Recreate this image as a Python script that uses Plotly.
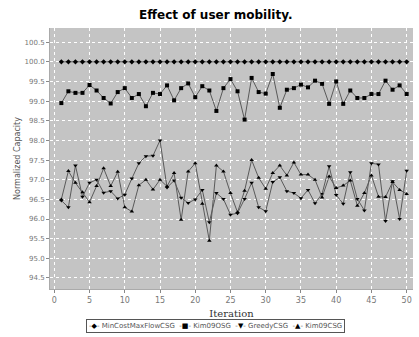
import plotly.graph_objects as go

iterations = list(range(1, 51))

mincost = [100.0] * 50

kim09osg = [98.95, 99.25, 99.21, 99.21, 99.41, 99.27, 99.08, 98.94, 99.23, 99.33,
            99.08, 99.18, 98.87, 99.21, 99.18, 99.40, 99.02, 99.33, 99.45, 99.10,
            99.38, 99.27, 98.75, 99.33, 99.56, 99.25, 98.53, 99.59, 99.23, 99.19,
            99.69, 98.83, 99.29, 99.33, 99.42, 99.35, 99.52, 99.44, 98.93, 99.50,
            98.93, 99.27, 99.08, 99.08, 99.18, 99.18, 99.52, 99.29, 99.40, 99.18]

greedy = [96.47, 96.30, 97.36, 96.57, 96.92, 97.00, 96.67, 96.71, 96.52, 96.62,
          97.03, 97.42, 97.60, 97.61, 98.00, 96.80, 96.98, 96.54, 96.41, 96.50,
          96.74, 95.92, 96.66, 96.51, 96.11, 96.15, 96.51, 96.92, 96.30, 96.20,
          96.94, 97.06, 96.71, 96.66, 96.53, 96.74, 96.40, 96.64, 97.34, 96.61,
          96.39, 97.19, 96.51, 96.22, 97.42, 97.39, 95.95, 96.96, 96.00, 97.23]

kim09csg = [96.50, 97.22, 96.92, 96.68, 96.43, 96.84, 97.29, 96.84, 97.20, 96.30,
            96.19, 96.86, 97.00, 96.75, 97.00, 96.83, 97.17, 95.98, 97.21, 97.42,
            96.39, 95.45, 97.36, 97.21, 96.66, 96.17, 96.72, 97.50, 97.05, 96.77,
            97.17, 97.36, 97.11, 97.44, 97.13, 97.13, 97.00, 96.55, 97.08, 96.79,
            96.85, 96.98, 96.34, 96.66, 97.11, 96.57, 96.56, 96.94, 96.74, 96.64]

series_names = ["MinCostMaxFlowCSG", "Kim09OSG", "GreedyCSG", "Kim09CSG"]
series_values = [mincost, kim09osg, greedy, kim09csg]
series_symbols = ["diamond", "square", "triangle-down", "triangle-up"]
legend_glyphs = ["◆", "■", "▼", "▲"]

x_ticks = list(range(0, 51, 5))
y_ticks = [94.5 + 0.5 * k for k in range(13)]

fig = go.Figure()
for name, vals, sym in zip(series_names, series_values, series_symbols):
    fig.add_trace(go.Scatter(
        x=iterations, y=vals, name=name, mode="lines+markers",
        line=dict(color="#5a5a5a", width=1),
        marker=dict(symbol=sym, size=4, color="black"),
        showlegend=False,
    ))

legend_text = "  ".join(
    f'<span style="color:#666">-</span><span style="color:black">{g}</span>'
    f'<span style="color:#666">-</span> {n}'
    for g, n in zip(legend_glyphs, series_names)
)

fig.update_layout(
    width=419, height=337,
    margin=dict(l=50, r=6, t=28, b=48),
    paper_bgcolor="white",
    plot_bgcolor="#c4c4c4",
    title=dict(text="<b>Effect of user mobility.</b>", x=0.515, xanchor="center",
               y=0.955, yanchor="middle",
               font=dict(family="DejaVu Sans", size=12, color="black")),
    showlegend=False,
    annotations=[dict(
        text=legend_text, xref="paper", yref="paper", x=0.455, y=-0.142,
        xanchor="center", yanchor="middle", showarrow=False,
        font=dict(family="DejaVu Sans", size=7, color="#555555"),
        bordercolor="#555555", borderwidth=1, borderpad=2, bgcolor="white",
    )],
)

fig.update_xaxes(
    range=[-0.61, 50.9], tickvals=x_ticks, ticktext=[str(t) for t in x_ticks],
    showgrid=True, gridcolor="white", griddash="dot", gridwidth=1,
    zeroline=False, showline=True, linecolor="#aaaaaa", linewidth=1,
    ticks="outside", ticklen=3, tickcolor="#888888",
    tickfont=dict(family="DejaVu Sans", size=8, color="#777777"),
    title=dict(text="Iteration", standoff=6,
               font=dict(family="DejaVu Serif", size=10, color="#333333")),
)
fig.update_yaxes(
    range=[94.22, 100.86], tickvals=y_ticks, ticktext=[f"{t:.1f}" for t in y_ticks],
    showgrid=True, gridcolor="white", griddash="dot", gridwidth=1,
    zeroline=False, showline=True, linecolor="#aaaaaa", linewidth=1,
    ticks="outside", ticklen=3, tickcolor="#888888",
    tickfont=dict(family="DejaVu Sans", size=7, color="#777777"),
    title=dict(text="Normalized Capacity", standoff=2,
               font=dict(family="DejaVu Sans", size=8, color="#555555")),
)

fig.write_html("out.html")
